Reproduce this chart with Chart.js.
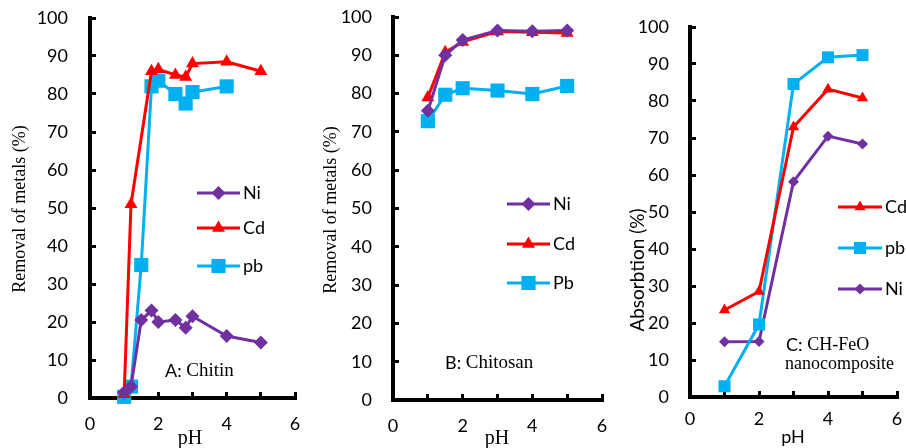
<!DOCTYPE html>
<html>
<head>
<meta charset="utf-8">
<script src="https://cdn.jsdelivr.net/npm/chart.js@4.4.1/dist/chart.umd.min.js"></script>
<style>
  body { margin: 0; background: #fff; }
  #wrap { position: relative; width: 906px; height: 448px; overflow: hidden; }
  canvas { position: absolute; top: 0; }
</style>
</head>
<body>
<div id="wrap">
  <canvas id="cA" width="305" height="448" style="left:0px"></canvas>
  <canvas id="cB" width="312" height="448" style="left:300px"></canvas>
  <canvas id="cC" width="296" height="448" style="left:610px"></canvas>
</div>
<script>
// A: Chitin
var phA_Ni = [1, 1.2, 1.5, 1.8, 2, 2.5, 2.8, 3, 4, 5];
var niA = [1.5, 3, 20.5, 23, 20, 20.5, 18.5, 21.5, 16.3, 14.6];
var phA_Cd = [1, 1.2, 1.8, 2, 2.5, 2.8, 3, 4, 5];
var cdA = [1, 51, 86, 86.5, 85, 84.5, 88, 88.5, 86];
var phA_Pb = [1, 1.2, 1.5, 1.8, 2, 2.5, 2.8, 3, 4];
var pbA = [0.3, 3, 35, 82, 83.5, 80, 77.5, 80.5, 82];

// B: Chitosan
var phB = [1, 1.5, 2, 3, 4, 5];
var niB = [75.5, 90, 94, 96.5, 96.3, 96.5];
var cdB = [79, 90.8, 93.5, 96.2, 96, 95.8];
var pbB = [72.8, 79.7, 81.4, 80.8, 79.9, 82];

// C: CH-FeO nanocomposite
var phC = [1, 2, 3, 4, 5];
var cdC = [23.5, 28.5, 73, 83.2, 80.8];
var pbC = [2.9, 19.6, 84.6, 91.8, 92.4];
var niC = [14.9, 15, 58.2, 70.5, 68.4];

var PURPLE = "#7030A0", RED = "#FF0000", BLUE = "#00B0F0";
var SANS = "Lato, 'Liberation Sans', sans-serif";
var SERIF = "'Liberation Serif', 'DejaVu Serif', serif";

function pts(xs, ys) {
  return xs.map(function(x, i) { return { x: x, y: ys[i] }; });
}

function series(label, xs, ys, color, style, r) {
  return {
    label: label,
    data: pts(xs, ys),
    borderColor: color,
    backgroundColor: color,
    borderWidth: 3,
    pointStyle: style,
    pointRadius: r,
    pointBorderWidth: 0,
    pointBackgroundColor: color,
    clip: false,
    tension: 0
  };
}

/* texto e legenda desenhados por cima */
var extras = {
  id: "extras",
  afterDatasetsDraw: function(chart) {
    var o = chart.options.plugins.extras;
    var ctx = chart.ctx;
    ctx.save();
    ctx.fillStyle = "#000";
    // titulo y
    ctx.save();
    ctx.translate(o.yTitle.x, o.yTitle.y);
    ctx.rotate(-Math.PI / 2);
    ctx.font = o.yTitle.font;
    ctx.textAlign = "center";
    ctx.textBaseline = "middle";
    ctx.fillText(o.yTitle.text, 0, 0);
    ctx.restore();
    // titulo x
    ctx.font = o.xTitle.font;
    ctx.textAlign = "center";
    ctx.textBaseline = "middle";
    ctx.fillText("pH", o.xTitle.x, o.xTitle.y);
    // legenda
    ctx.textAlign = "left";
    ctx.font = "18px " + SANS;
    chart.data.datasets.forEach(function(ds, i) {
      var lg = o.legend;
      var y = lg.y[i];
      ctx.strokeStyle = ds.borderColor;
      ctx.lineWidth = ds.borderWidth;
      ctx.beginPath();
      ctx.moveTo(lg.x1, y);
      ctx.lineTo(lg.x2, y);
      ctx.stroke();
      ctx.fillStyle = ds.backgroundColor;
      Chart.helpers.drawPoint(ctx, { pointStyle: ds.pointStyle, radius: ds.pointRadius, rotation: 0, borderWidth: 0 }, (lg.x1 + lg.x2) / 2, y);
      ctx.fillStyle = "#000";
      ctx.fillText(ds.label, lg.x2 + 3, y);
    });
    // anotacao
    o.note.forEach(function(n) {
      var x = n.x;
      n.parts.forEach(function(p) {
        ctx.font = p.font;
        ctx.fillText(p.t, x, n.y);
        x += ctx.measureText(p.t).width;
      });
    });
    ctx.restore();
  }
};

function makePanel(id, datasets, box, extra) {
  return new Chart(document.getElementById(id), {
    type: "line",
    data: { datasets: datasets },
    plugins: [extras],
    options: {
      responsive: false,
      animation: false,
      layout: { padding: { left: 0, right: box.right, top: box.top, bottom: 0 } },
      plugins: { legend: { display: false }, tooltip: { enabled: false }, extras: extra },
      scales: {
        x: {
          type: "linear",
          min: 0, max: 6,
          afterFit: function(s) { s.height = box.xh; s.paddingLeft = 0; s.paddingRight = 0; },
          border: { color: "#000", width: 4 },
          grid: { drawOnChartArea: false, tickLength: -6, tickWidth: 3, tickColor: "#000" },
          ticks: {
            stepSize: 1,
            padding: box.xpad,
            color: "#000",
            font: { family: SANS, size: 18 },
            callback: function(v) { return v % 2 === 0 ? v : ""; }
          }
        },
        y: {
          min: 0, max: 100,
          afterFit: function(s) { s.width = box.yw; s.paddingTop = 0; s.paddingBottom = 0; },
          border: { color: "#000", width: 4 },
          grid: { drawOnChartArea: false, tickLength: -6, tickWidth: 3, tickColor: "#000" },
          ticks: {
            stepSize: 5,
            padding: box.ypad,
            color: "#000",
            font: { family: SANS, size: 18 },
            callback: function(v) { return v % 10 === 0 ? v : ""; }
          }
        }
      }
    }
  });
}

makePanel("cA", [
  series("Ni", phA_Ni, niA, PURPLE, "rectRot", 7),
  series("Cd", phA_Cd, cdA, RED, "triangle", 7.5),
  series("pb", phA_Pb, pbA, BLUE, "rect", 10)
], { right: 2, top: 18, xh: 50, yw: 90, xpad: 21, ypad: 28 }, {
  yTitle: { text: "Removal of metals (%)", x: 20, y: 209, font: "18px " + SERIF },
  xTitle: { x: 190, y: 439, font: "20px " + SERIF },
  legend: { x1: 197, x2: 240, y: [193, 228, 266] },
  note: [{ x: 165, y: 371, parts: [{ t: "A: ", font: "18px " + SANS }, { t: "Chitin", font: "19px " + SERIF }] }]
});

makePanel("cB", [
  series("Ni", phB, niB, PURPLE, "rectRot", 7),
  series("Cd", phB, cdB, RED, "triangle", 7.5),
  series("Pb", phB, pbB, BLUE, "rect", 10)
], { right: 7, top: 17, xh: 48, yw: 93, xpad: 21, ypad: 27 }, {
  yTitle: { text: "Removal of metals (%)", x: 31, y: 210, font: "18px " + SERIF },
  xTitle: { x: 197, y: 439, font: "20px " + SERIF },
  legend: { x1: 207, x2: 250, y: [204, 244, 283] },
  note: [{ x: 145, y: 363, parts: [{ t: "B: ", font: "18px " + SANS }, { t: "Chitosan", font: "19px " + SERIF }] }]
});

makePanel("cC", [
  series("Cd", phC, cdC, RED, "triangle", 6.5),
  series("pb", phC, pbC, BLUE, "rect", 8.5),
  series("Ni", phC, niC, PURPLE, "rectRot", 5.5)
], { right: 9, top: 27, xh: 51, yw: 80, xpad: 17, ypad: 27 }, {
  yTitle: { text: "Absorbtion (%)", x: 28, y: 270, font: "19px " + SANS },
  xTitle: { x: 183, y: 437, font: "18px " + SANS },
  legend: { x1: 228, x2: 272, y: [207, 248, 289] },
  note: [
    { x: 176, y: 345, parts: [{ t: "C: ", font: "18px " + SANS }, { t: "CH-FeO", font: "18px " + SERIF }] },
    { x: 175, y: 364, parts: [{ t: "nanocomposite", font: "18px " + SERIF }] }
  ]
});
</script>
</body>
</html>
